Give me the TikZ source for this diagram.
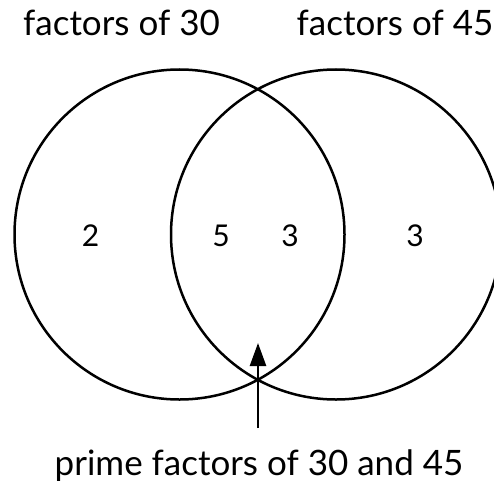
\documentclass[tikz,border=0pt]{standalone}
\usepackage{fontspec}
\setmainfont{Lato}
\usetikzlibrary{arrows.meta}
\begin{document}
\begin{tikzpicture}[x=1pt,y=-1pt,
  venn/.style={circle,draw,line width=2.5pt,minimum size=330pt,inner sep=0pt,outer sep=0pt},
  lbl/.style={font=\fontsize{35}{38}\selectfont,anchor=base,inner sep=0pt},
  num/.style={font=\fontsize{30}{33}\selectfont,inner sep=0pt}]
\useasboundingbox (0,0) rectangle (494,484);
\node[venn] (L) at (179.5,234.5) {};
\node[venn] (R) at (336,234.5) {};
\node[lbl] (tL) at (121.5,36) {factors of 30};
\node[lbl] (tR) at (395,36) {factors of 45};
\node[num] (n2) at (90.5,236) {2};
\node[num] (n5) at (221,236) {5};
\node[num] (n3a) at (290,236) {3};
\node[num] (n3b) at (415,236) {3};
\node[lbl] (bot) at (259,475) {prime factors of 30 and 45};
\coordinate (tail) at (258,428);
\coordinate (tip) at (258,343);
\draw[line width=2.5pt,-{Triangle[length=23pt,width=16pt]}] (tail) -- (tip);
\end{tikzpicture}
\end{document}
